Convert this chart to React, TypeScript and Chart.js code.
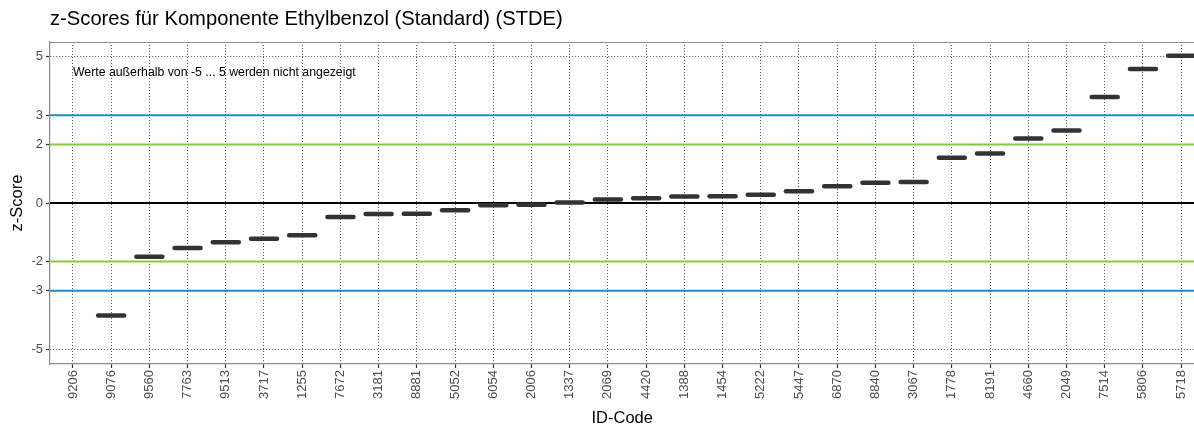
import React, { useEffect, useRef } from "react";
import { Chart, registerables } from "chart.js";

Chart.register(...registerables);

const TITLE = "z-Scores für Komponente Ethylbenzol (Standard) (STDE)";
const NOTE = "Werte außerhalb von -5 ... 5 werden nicht angezeigt";

const ids = [
  "9206", "9076", "9560", "7763", "9513", "3717", "1255", "7672", "3181", "8881",
  "5052", "6054", "2006", "1337", "2069", "4420", "1388", "1454", "5222", "5447",
  "6870", "8840", "3067", "1778", "8191", "4660", "2049", "7514", "5806", "5718",
];

// z-scores per ID (null = outside -5..5, not shown)
const zScores: (number | null)[] = [
  null, -3.84, -1.84, -1.54, -1.34, -1.22, -1.1, -0.48, -0.38, -0.37,
  -0.25, -0.08, -0.06, 0.02, 0.12, 0.16, 0.22, 0.23, 0.28, 0.4,
  0.57, 0.69, 0.72, 1.55, 1.69, 2.2, 2.48, 3.62, 4.58, 5.03,
];

const yTicks = [-5, -3, -2, 0, 2, 3, 5];
const blueLines = [3, -3];
const greenLines = [2, -2];
const zeroLines = [0];

const X_MIN = -0.6;
const X_MAX = 29.35;
const Y_MIN = -5.5;
const Y_MAX = 5.5;

const FONT = "'Liberation Sans', Arial, sans-serif";

function hline(y: number, color: string, width: number) {
  return {
    type: "line" as const,
    data: [
      { x: X_MIN, y },
      { x: X_MAX, y },
    ],
    borderColor: color,
    borderWidth: width,
    pointRadius: 0,
    pointHoverRadius: 0,
    order: 2,
  };
}

export default function App() {
  const ref = useRef<HTMLCanvasElement | null>(null);

  useEffect(() => {
    document.body.style.margin = "0";
    document.body.style.overflow = "hidden";
    document.documentElement.style.overflow = "hidden";
    const canvas = ref.current;
    if (!canvas) return;

    const segData = zScores
      .map((v, i) => (v === null ? null : { x: i, y: v }))
      .filter((p) => p !== null) as { x: number; y: number }[];

    const textPlugin = {
      id: "texts",
      beforeDatasetDraw(chart: any, args: any) {
        if (args.index === 0) chart.ctx.lineCap = "round";
      },
      afterDatasetDraw(chart: any, args: any) {
        if (args.index === 0) chart.ctx.lineCap = "butt";
      },
      afterDraw(chart: any) {
        const { ctx, chartArea } = chart;
        ctx.save();
        // panel border (top)
        ctx.strokeStyle = "#8c8c8c";
        ctx.lineWidth = 1.2;
        ctx.beginPath();
        ctx.moveTo(chartArea.left, chartArea.top + 0.5);
        ctx.lineTo(chartArea.right, chartArea.top + 0.5);
        ctx.stroke();
        // title
        ctx.fillStyle = "#000";
        ctx.font = `20.2px ${FONT}`;
        ctx.textAlign = "left";
        ctx.textBaseline = "middle";
        ctx.fillText(TITLE, chartArea.left, 19);
        // note
        ctx.font = `12.3px ${FONT}`;
        const nx = chart.scales.x.getPixelForValue(0);
        const ny = chart.scales.y.getPixelForValue(4.45);
        ctx.fillText(NOTE, nx, ny);
        ctx.restore();
      },
    };

    const chart = new Chart(canvas, {
      type: "scatter",
      data: {
        datasets: [
          {
            type: "scatter" as const,
            data: segData,
            pointStyle: "line",
            pointRadius: 13,
            pointBorderWidth: 4.5,
            borderColor: "#333333",
            backgroundColor: "#333333",
            order: 0,
          } as any,
          ...blueLines.map((y) => hline(y, "#1f8ad4", 2)),
          ...greenLines.map((y) => hline(y, "#8cc63f", 2)),
          ...zeroLines.map((y) => hline(y, "#000000", 1.8)),
        ],
      },
      options: {
        animation: false,
        responsive: true,
        maintainAspectRatio: false,
        events: [],
        layout: { padding: { top: 42, right: 0, left: 0, bottom: 0 } },
        plugins: {
          legend: { display: false },
          tooltip: { enabled: false },
          title: { display: false },
        },
        scales: {
          x: {
            type: "linear",
            min: X_MIN,
            max: X_MAX,
            afterBuildTicks: (s: any) => {
              s.ticks = ids.map((_, i) => ({ value: i }));
            },
            afterFit: (s: any) => {
              s.height = 61;
              s.paddingLeft = 0;
              s.paddingRight = 0;
            },
            ticks: {
              autoSkip: false,
              minRotation: 90,
              maxRotation: 90,
              padding: 2,
              color: "#4d4d4d",
              font: { family: FONT, size: 13 },
              callback: (v: any) => ids[Math.round(Number(v))] ?? "",
            },
            grid: {
              color: "#555555",
              lineWidth: 1,
              tickLength: 4,
              tickColor: "#333333",
              tickWidth: 1.2,
            },
            border: { display: true, color: "#8c8c8c", width: 1.2, dash: [1, 2] },
            title: {
              display: true,
              text: "ID-Code",
              color: "#000",
              font: { family: FONT, size: 16.5 },
              padding: { top: 0, bottom: -3 },
            },
          },
          y: {
            type: "linear",
            min: Y_MIN,
            max: Y_MAX,
            afterBuildTicks: (s: any) => {
              s.ticks = yTicks.map((v) => ({ value: v }));
            },
            afterFit: (s: any) => {
              s.width = 50;
              s.paddingTop = 0;
              s.paddingBottom = 0;
            },
            ticks: {
              padding: 3,
              color: "#4d4d4d",
              font: { family: FONT, size: 13 },
              callback: (v: any) => String(v),
            },
            grid: {
              color: "#555555",
              lineWidth: 1,
              tickLength: 4,
              tickColor: "#333333",
              tickWidth: 1.2,
            },
            border: { display: true, color: "#8c8c8c", width: 1.2, dash: [1, 2] },
            title: {
              display: true,
              text: "z-Score",
              color: "#000",
              font: { family: FONT, size: 16.5 },
              padding: { top: 8, bottom: 0 },
            },
          },
        },
      },
      plugins: [textPlugin],
    });

    return () => chart.destroy();
  }, []);

  return (
    <div style={{ position: "fixed", left: 0, top: 0, width: "1212px", height: "425px" }}>
      <canvas ref={ref} />
    </div>
  );
}
